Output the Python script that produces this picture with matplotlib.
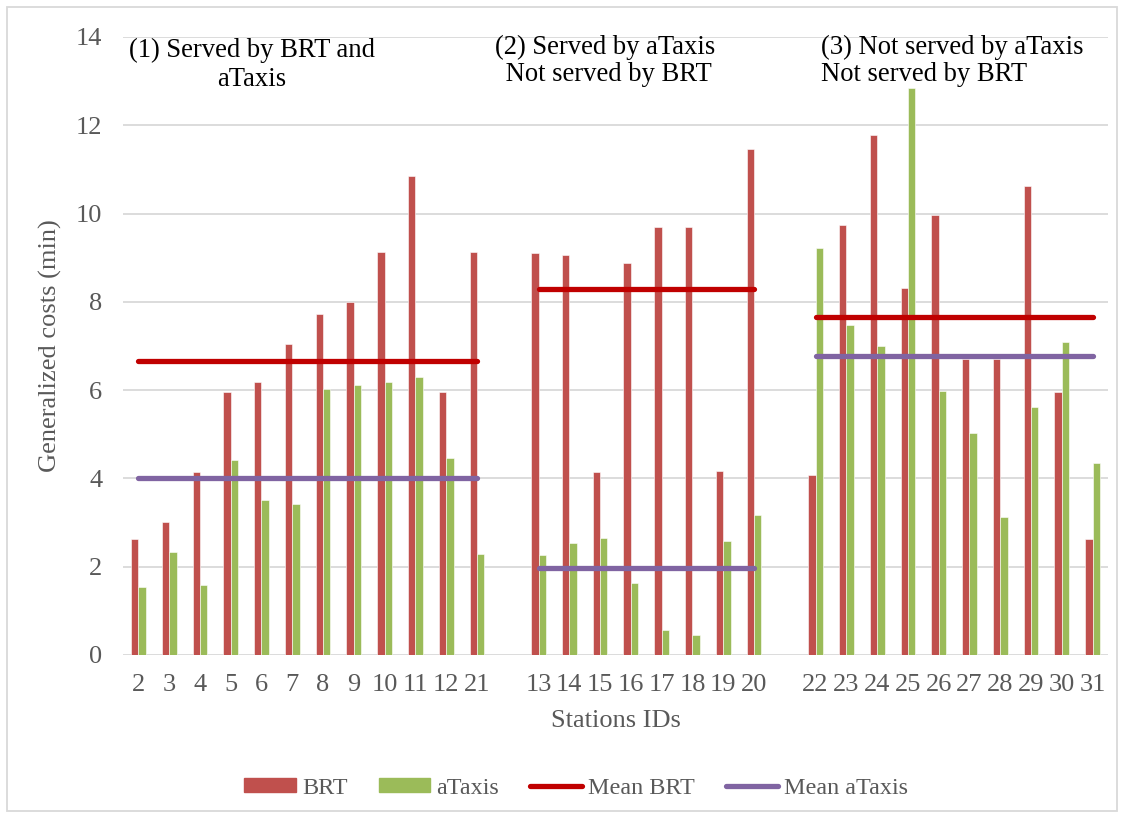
import numpy as np
import matplotlib.pyplot as plt
from matplotlib.patches import Rectangle
from matplotlib.lines import Line2D
from matplotlib.patches import Patch

plt.rcParams['font.family'] = ['Liberation Serif', 'DejaVu Serif']

# station ids per service group
stations_1 = ['2', '3', '4', '5', '6', '7', '8', '9', '10', '11', '12', '21']
stations_2 = ['13', '14', '15', '16', '17', '18', '19', '20']
stations_3 = ['22', '23', '24', '25', '26', '27', '28', '29', '30', '31']

# generalized costs (min)
brt_1 = [2.63, 3.02, 4.15, 5.96, 6.18, 7.05, 7.72, 8.00, 9.12, 10.86, 5.96, 9.12]
taxi_1 = [1.55, 2.34, 1.58, 4.42, 3.51, 3.42, 6.02, 6.12, 6.18, 6.30, 4.46, 2.29]
brt_2 = [9.11, 9.06, 4.15, 8.87, 9.69, 9.69, 4.16, 11.46]
taxi_2 = [2.27, 2.54, 2.64, 1.63, 0.56, 0.46, 2.58, 3.17]
brt_3 = [4.07, 9.74, 11.79, 8.32, 9.96, 6.71, 6.71, 10.63, 5.96, 2.63]
taxi_3 = [9.21, 7.48, 7.01, 12.85, 5.99, 5.02, 3.13, 5.62, 7.09, 4.35]

mean_brt = [6.65, 8.28, 7.66]
mean_taxi = [4.02, 1.98, 6.78]

group_titles = ['(1) Served by BRT and\naTaxis',
                '(2) Served by aTaxis\n Not served by BRT',
                '(3) Not served by aTaxis\nNot served by BRT']

c_brt = '#C0504D'
c_taxi = '#9BBB59'
c_mbrt = '#C00000'
c_mtaxi = '#8064A2'
gray = '#595959'

fig = plt.figure(figsize=(11.25, 8.18), dpi=100)
ax = fig.add_axes([0.1093, 0.1993, 0.8756, 0.7555])

groups = [(stations_1, brt_1, taxi_1), (stations_2, brt_2, taxi_2), (stations_3, brt_3, taxi_3)]
ticks, labels = [], []
start = 0
w = 0.24
for gi, (st, brt, taxi) in enumerate(groups):
    x = np.arange(start, start + len(st))
    ax.bar(x - w / 2, brt, w, color=c_brt, edgecolor='white', linewidth=0.4, zorder=2)
    ax.bar(x + w / 2, taxi, w, color=c_taxi, edgecolor='white', linewidth=0.4, zorder=2)
    ax.plot([x[0], x[-1]], [mean_brt[gi]] * 2, color=c_mbrt, lw=3.8,
            solid_capstyle='round', zorder=3)
    ax.plot([x[0], x[-1]], [mean_taxi[gi]] * 2, color=c_mtaxi, lw=3.8,
            solid_capstyle='round', zorder=3)
    ticks.extend(x)
    labels.extend(st)
    start += len(st) + 1

ax.set_xlim(-0.5, 31.5)
ax.set_ylim(0, 14)
ax.set_yticks(np.arange(0, 15, 2))
ax.set_xticks(ticks)
ax.set_xticklabels(labels)
ax.tick_params(length=0, labelsize=19, colors=gray)
ax.tick_params(axis='x', pad=14)
ax.tick_params(axis='y', pad=15)
ax.grid(axis='y', color='#D9D9D9', lw=1.3, zorder=0)
ax.set_axisbelow(True)
for s in ax.spines.values():
    s.set_visible(False)

ax.set_ylabel('Generalized costs (min)', fontsize=19, color=gray, labelpad=10)
ax.set_xlabel('Stations IDs', fontsize=19, color=gray, labelpad=10)

# group headings
fig.text(252 / 1125, 1 - 65 / 818, group_titles[0], ha='center', va='center',
         fontsize=19.2, linespacing=1.2)
fig.text(605 / 1125, 1 - 61 / 818, group_titles[1], ha='center', va='center',
         fontsize=19.2, linespacing=1.1)
fig.text(821 / 1125, 1 - 61 / 818, group_titles[2], ha='left', va='center',
         fontsize=19.2, linespacing=1.1)

handles = [Patch(color=c_brt), Patch(color=c_taxi),
           Line2D([], [], color=c_mbrt, lw=3.8, solid_capstyle='round'),
           Line2D([], [], color=c_mtaxi, lw=3.8, solid_capstyle='round')]
leg = fig.legend(handles, ['BRT', 'aTaxis', 'Mean BRT', 'Mean aTaxis'], ncol=4,
                 loc='center', bbox_to_anchor=(576 / 1125, 1 - 788 / 818),
                 frameon=False, fontsize=17.4, handlelength=2.15, handleheight=0.5,
                 handletextpad=0.25, columnspacing=1.28)
for t in leg.get_texts():
    t.set_color(gray)

# outer chart frame
fig.patches.append(Rectangle((7 / 1125, 7 / 818), 1110 / 1125, 804 / 818,
                             transform=fig.transFigure, fill=False,
                             edgecolor='#D9D9D9', lw=1.3))

fig.savefig('out.png', dpi=100)
